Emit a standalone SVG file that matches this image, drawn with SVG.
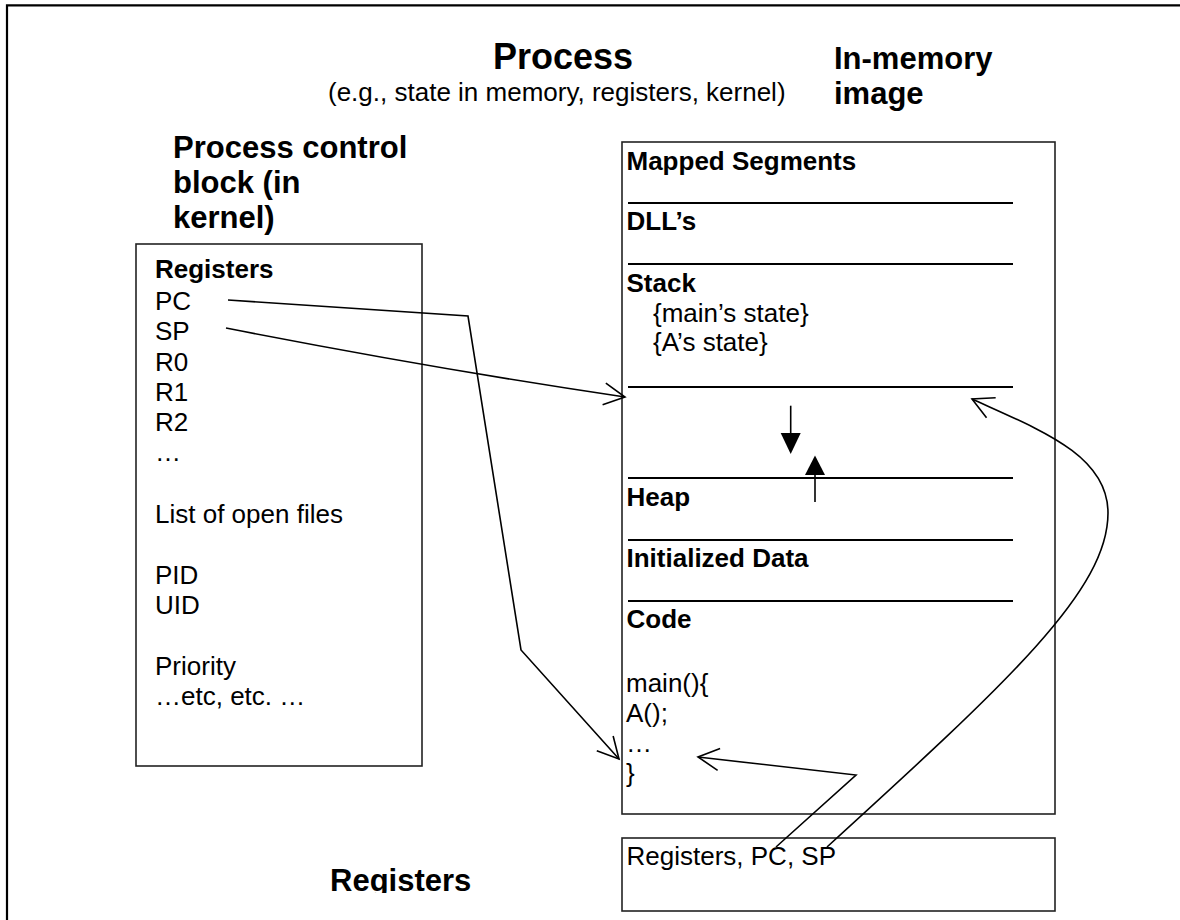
<svg xmlns="http://www.w3.org/2000/svg" width="1180" height="920" viewBox="0 0 1180 920">
<style>
text{font-family:"Liberation Sans",Arial,sans-serif;fill:#000}
.b{font-weight:bold}
.t26{font-size:26px}
.h31{font-size:31px;font-weight:bold}
.box{fill:#fff;stroke:#222;stroke-width:1.6}
.seg{stroke:#000;stroke-width:2}
.con{fill:none;stroke:#000;stroke-width:1.6}
</style>
<defs>
<marker id="open" markerUnits="userSpaceOnUse" viewBox="-25 -15 30 30" markerWidth="30" markerHeight="30" refX="0" refY="0" orient="auto">
<path d="M-21,-11 L0,0 L-21,11" fill="none" stroke="#000" stroke-width="1.6"/>
</marker>
<clipPath id="clipBottom"><rect x="0" y="0" width="1180" height="893"/></clipPath>
</defs>
<rect width="1180" height="920" fill="#fff"/>
<path d="M7,920 V5.3 H1180" fill="none" stroke="#000" stroke-width="2.2"/>

<g id="title">
<text x="493" y="69" class="b" font-size="36">Process</text>
<text x="328" y="101" class="t26">(e.g., state in memory, registers, kernel)</text>
</g>
<g id="inmemory-label">
<text x="834" y="69" class="h31">In-memory</text>
<text x="834" y="104" class="h31">image</text>
</g>
<g id="pcb-label">
<text x="173" y="158" class="h31">Process control</text>
<text x="173" y="193" class="h31">block (in</text>
<text x="173" y="228" class="h31">kernel)</text>
</g>

<g id="pcb">
<rect class="box" x="136" y="244" width="286" height="522"/>
<text x="155" y="278" class="t26 b">Registers</text>
<text x="155" y="309.5" class="t26">PC</text>
<text x="155" y="340" class="t26">SP</text>
<text x="155" y="370.5" class="t26">R0</text>
<text x="155" y="401" class="t26">R1</text>
<text x="155" y="431" class="t26">R2</text>
<text x="155" y="461" class="t26">…</text>
<text x="155" y="523" class="t26">List of open files</text>
<text x="155" y="584" class="t26">PID</text>
<text x="155" y="614" class="t26">UID</text>
<text x="155" y="675" class="t26">Priority</text>
<text x="155" y="705" class="t26">…etc, etc. …</text>
</g>

<g id="memory">
<rect class="box" x="622" y="142" width="433" height="672"/>
<line class="seg" x1="628" y1="203" x2="1013" y2="203"/>
<line class="seg" x1="628" y1="264" x2="1013" y2="264"/>
<line class="seg" x1="628" y1="387" x2="1013" y2="387"/>
<line class="seg" x1="628" y1="478" x2="1013" y2="478"/>
<line class="seg" x1="628" y1="540" x2="1013" y2="540"/>
<line class="seg" x1="628" y1="601" x2="1013" y2="601"/>
<text x="626.5" y="170" class="t26 b">Mapped Segments</text>
<text x="626.5" y="230" class="t26 b">DLL’s</text>
<text x="626.5" y="292" class="t26 b">Stack</text>
<text x="653" y="322" class="t26">{main’s state}</text>
<text x="653" y="351" class="t26">{A’s state}</text>
<text x="626.5" y="506" class="t26 b">Heap</text>
<text x="626.5" y="567" class="t26 b">Initialized Data</text>
<text x="626.5" y="628" class="t26 b">Code</text>
<text x="626" y="692" class="t26">main(){</text>
<text x="626" y="722" class="t26">A();</text>
<text x="626" y="752" class="t26">…</text>
<text x="626" y="782" class="t26">}</text>
<line x1="790.7" y1="405.7" x2="790.7" y2="434" stroke="#000" stroke-width="1.6"/>
<polygon points="780.7,433 800.7,433 790.7,454" fill="#000"/>
<line x1="815" y1="502" x2="815" y2="474" stroke="#000" stroke-width="1.6"/>
<polygon points="805,475 825,475 815,455.5" fill="#000"/>
</g>

<g id="cpu-registers">
<rect class="box" x="622" y="838" width="433" height="73"/>
<text x="626.5" y="865" class="t26">Registers, PC, SP</text>
</g>

<g id="registers-label" clip-path="url(#clipBottom)">
<text x="330" y="891" class="h31">Registers</text>
</g>

<g id="connectors">
<polyline class="con" points="228,300 468,316 521,650 619,759" marker-end="url(#open)"/>
<path class="con" d="M226,328 Q430,368 625,397" marker-end="url(#open)"/>
<polyline class="con" points="776,847 856,775 698,757" marker-end="url(#open)"/>
<path class="con" d="M827,847 C1010,680 1108,590 1108,513 C1108,455 1040,430 972,399" marker-end="url(#open)"/>
</g>
</svg>
